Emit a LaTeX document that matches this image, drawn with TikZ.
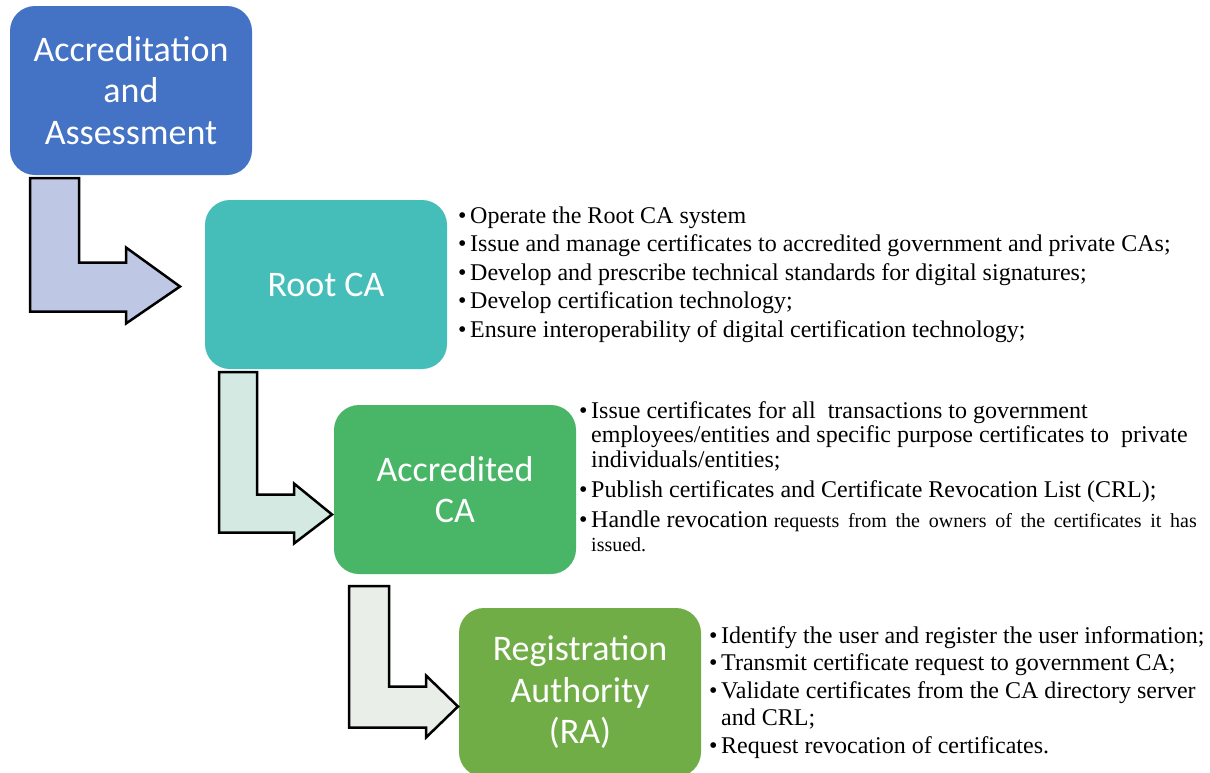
\documentclass[tikz,border=0pt]{standalone}
\usepackage{fontspec}
\setmainfont{Liberation Serif}
\newfontfamily\boxfont{Carlito}
\usepackage{tikz}
\usetikzlibrary{positioning}

\definecolor{accblue}{HTML}{4472C4}
\definecolor{rootteal}{HTML}{45BDB9}
\definecolor{accrgreen}{HTML}{48B567}
\definecolor{ragreen}{HTML}{70AD47}
\definecolor{arrowone}{HTML}{BEC8E4}
\definecolor{arrowtwo}{HTML}{D4E9E2}
\definecolor{arrowthree}{HTML}{E9EFE8}

\tikzstyle{stage} = [rectangle, rounded corners=25pt, minimum width=242pt, minimum height=169pt, inner sep=0pt, outer sep=0pt, text=white, align=center, font=\boxfont\fontsize{36}{41.5}\selectfont]
\tikzstyle{duties} = [inner sep=0pt, anchor=base west, text=black, font=\fontsize{24}{28.5}\selectfont]
\tikzstyle{bent} = [draw=black, line width=2.5pt, line join=miter]

\begin{document}
\begin{tikzpicture}[x=1pt, y=-1pt]

	\useasboundingbox[fill=white] (0,0) rectangle (1210,772);

	\node (acc) [stage, fill=accblue] at (131,90.5) {Accreditation\\and\\Assessment};
	\node (root) [stage, fill=rootteal, below right=25pt and -47pt of acc] {Root CA};
	\node (accr) [stage, fill=accrgreen, below right=36pt and -113pt of root] {Accredited\\CA};
	\node (ra) [stage, fill=ragreen, below right=34pt and -117pt of accr] {Registration\\Authority\\(RA)};

	% bent arrows from one stage to the next
	\coordinate (t1) at ([shift={(-25,2)}]root.west);
	\draw [bent, fill=arrowone] ([shift={(20,3)}]acc.south west) coordinate (s1) -- ++(49,0) |- ([shift={(-54,-24)}]t1) -- ++(0,-15) -- (t1) -- ++(-54,37) -- ++(0,-12) -| (s1) -- cycle;

	\coordinate (t2) at ([shift={(-2,25)}]accr.west);
	\draw [bent, fill=arrowtwo] ([shift={(14,3)}]root.south west) coordinate (s2) -- ++(38,0) |- ([shift={(-38,-20)}]t2) -- ++(0,-11) -- (t2) -- ++(-38,29) -- ++(0,-11) -| (s2) -- cycle;

	\coordinate (t3) at ([shift={(-1,14)}]ra.west);
	\draw [bent, fill=arrowthree] ([shift={(15,12)}]accr.south west) coordinate (s3) -- ++(40,0) |- ([shift={(-32,-20)}]t3) -- ++(0,-11) -- (t3) -- ++(-32,31) -- ++(0,-10) -| (s3) -- cycle;

	% duty lists
	\node (rootduties) [duties] at ([shift={(11,23)}]root.north east) {\begin{tabular}[t]{@{}l@{\hspace{3.6pt}}l@{}}
		\textbullet & Operate the Root CA system\\
		\textbullet & Issue and manage certificates to accredited government and private CAs;\\
		\textbullet & Develop and prescribe technical standards for digital signatures;\\
		\textbullet & Develop certification technology;\\
		\textbullet & Ensure interoperability of digital certification technology;
	\end{tabular}};

	\node (accrduties) [duties, font=\fontsize{24}{24.5}\selectfont] at ([shift={(3,13)}]accr.north east) {\begin{tabular}[t]{@{}l@{\hspace{3.6pt}}l@{}}
		\textbullet & Issue certificates for all\ \ transactions to government\\
		& employees/entities and specific purpose certificates to\ \ private\\
		& individuals/entities;\\[5.5pt]
		\textbullet & Publish certificates and Certificate Revocation List (CRL);\\[5.5pt]
		\textbullet & Handle revocation \makebox[423pt][s]{\fontsize{20}{24.5}\selectfont requests from the owners of the certificates it has}\\
		& {\fontsize{20}{24.5}\selectfont issued.}
	\end{tabular}};

	\node (raduties) [duties, font=\fontsize{24}{27.5}\selectfont] at ([shift={(8,35)}]ra.north east) {\begin{tabular}[t]{@{}l@{\hspace{3.6pt}}l@{}}
		\textbullet & Identify the user and register the user information;\\
		\textbullet & Transmit certificate request to government CA;\\
		\textbullet & Validate certificates from the CA directory server\\
		& and CRL;\\
		\textbullet & Request revocation of certificates.
	\end{tabular}};

\end{tikzpicture}
\end{document}
